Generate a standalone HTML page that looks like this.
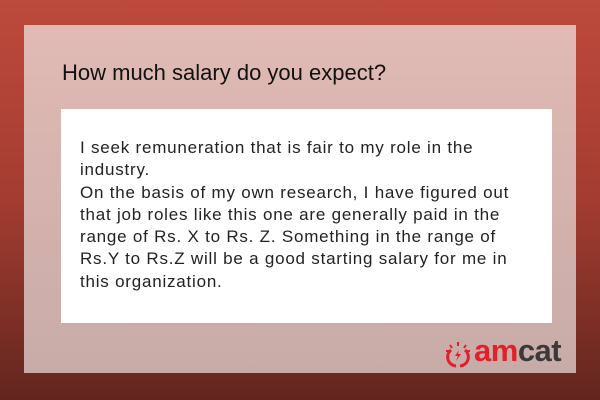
<!DOCTYPE html>
<html><head><style>
body{margin:0;width:600px;height:400px;overflow:hidden;font-family:"Liberation Sans",sans-serif}
#bg{position:absolute;left:0;top:0;width:600px;height:400px;background:linear-gradient(#bd4a3c,#a43c31 50%,#62261e)}
#panel{position:absolute;left:24px;top:25px;width:552px;height:348px;background:linear-gradient(#e1bab4,#c8aba8)}
#title{position:absolute;left:62px;top:60px;font-size:22px;color:#111}
#box{position:absolute;left:61px;top:109px;width:491px;height:214px;background:#fff}
#txt{position:absolute;left:80px;top:137px;width:470px;white-space:nowrap;font-size:17px;line-height:22.3px;letter-spacing:0.78px;color:#222}
#logo{position:absolute;left:443px;top:333px;width:130px;height:36px}
#word{position:absolute;left:31px;top:0;font-size:31px;font-weight:bold;letter-spacing:-0.5px;white-space:nowrap}
</style></head><body>
<div id="bg"></div>
<div id="panel"></div>
<div id="title">How much salary do you expect?</div>
<div id="box"></div>
<div id="txt">I seek remuneration that is fair to my role in the<br>industry.<br>On the basis of my own research, I have figured out<br>that job roles like this one are generally paid in the<br>range of Rs. X to Rs. Z. Something in the range of<br>Rs.Y to Rs.Z will be a good starting salary for me in<br>this organization.</div>
<div id="logo">
<svg width="30" height="30" style="position:absolute;left:0;top:5px" viewBox="0 0 30 30"><path d="M8 12 A9 9 0 0 0 13 28 M22 12 A9 9 0 0 1 17 28" stroke="#e0202a" stroke-width="3" fill="none"/><path d="M15 4v4M7 7l2 3M23 7l-2 3M3 13h3M27 13h-3" stroke="#e0202a" stroke-width="2"/><path d="M16 12l-4 6h3l-2 5 5-7h-3z" fill="#e0202a"/></svg>
<div id="word"><span style="color:#e0202a">am</span><span style="color:#3a3a3a">cat</span></div></div>
</body></html>
